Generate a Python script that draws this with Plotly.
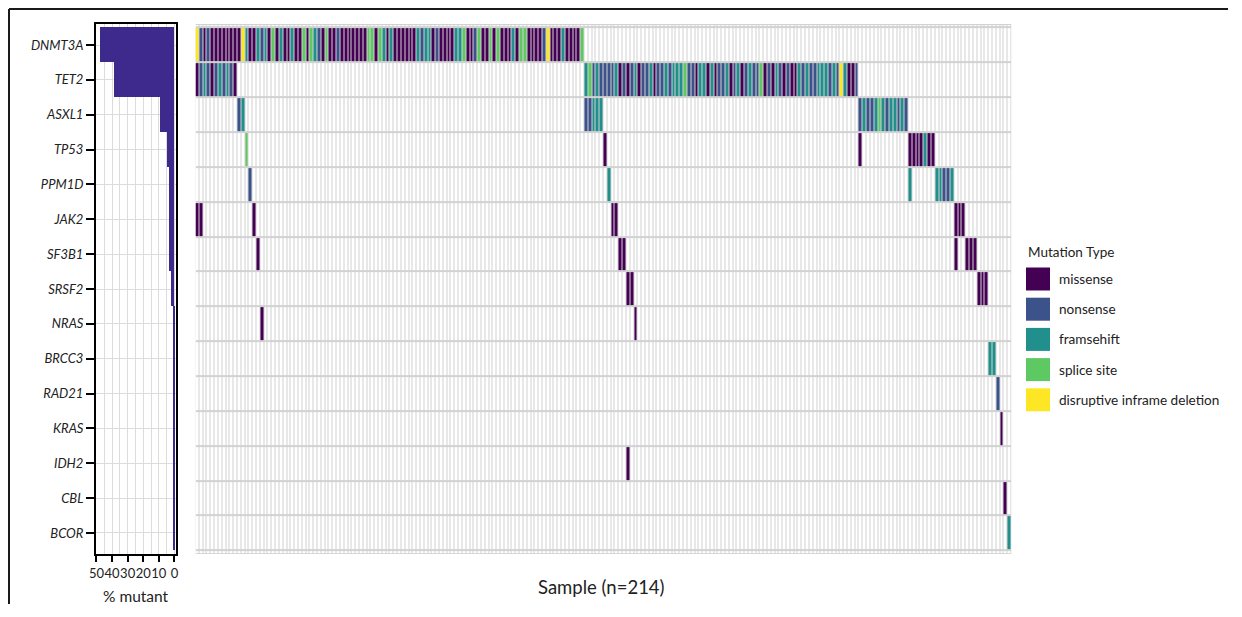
import numpy as np
import plotly.graph_objects as go

N_SAMPLES = 214
genes = ["DNMT3A", "TET2", "ASXL1", "TP53", "PPM1D", "JAK2", "SF3B1", "SRSF2",
         "NRAS", "BRCC3", "RAD21", "KRAS", "IDH2", "CBL", "BCOR"]

mutation_types = ["missense", "nonsense", "framsehift", "splice site", "disruptive inframe deletion"]
type_codes = ["M", "N", "F", "S", "D"]
type_colors = ["#440154", "#3b528b", "#21908c", "#5ec962", "#fde725"]

# per gene: (first sample index, run of mutation codes for consecutive samples)
DNMT3A = [(0, "DNMNMMMMMMMM" + "DFMMFNFMSMFMMFMMSMSFNMSMMNMMMMMMMSSMSF"),
          (50, "MFMMMMMMFNFFMNMMMMFFSMMNSMMSMSMMMFMSSMMMMNDMMMFMMMMS")]
TET2 = [(0, "MNFNMNFNFNM"),
        (102, "FSNFNNNNFMNMNFMNNFMNNFNFFFSNNMFFMFMNNFMNFMNFNNSMNMFNMNMMFNFNNFFFNFNDFMMN")]
ASXL1 = [(11, "NF"), (102, "NNFFF"), (174, "NFNNFSFNFFNFN")]
TP53 = [(13, "S"), (107, "M"), (174, "M"), (187, "MMMMFMM")]
PPM1D = [(14, "N"), (108, "F"), (187, "F"), (194, "FFNNF")]
JAK2 = [(0, "MM"), (15, "M"), (109, "MM"), (199, "MMM")]
SF3B1 = [(16, "M"), (111, "MM"), (199, "M"), (202, "MMM")]
SRSF2 = [(113, "MM"), (205, "MMM")]
NRAS = [(17, "M"), (115, "M")]
BRCC3 = [(208, "FF")]
RAD21 = [(210, "N")]
KRAS = [(211, "M")]
IDH2 = [(113, "M")]
CBL = [(212, "M")]
BCOR = [(213, "F")]

gene_runs = [DNMT3A, TET2, ASXL1, TP53, PPM1D, JAK2, SF3B1, SRSF2,
             NRAS, BRCC3, RAD21, KRAS, IDH2, CBL, BCOR]

x_ticks = [50, 40, 30, 20, 10, 0]

BAR_COLOR = "#3d2a8c"
GRID = "#dcdcdc"
FONT = "Lato"
TXT = "#222222"

# ---------- build matrix ----------
code_val = {c: i + 1 for i, c in enumerate(type_codes)}
mat = np.zeros((len(genes), N_SAMPLES))
for gi, runs in enumerate(gene_runs):
    for start, codes in runs:
        for k, c in enumerate(codes):
            mat[gi, start + k] = code_val[c]
counts = (mat > 0).sum(axis=1)
pct = counts / N_SAMPLES * 100

E = 0.1  # thin strip above/below rows
z = np.vstack([np.zeros((1, N_SAMPLES)), mat, np.zeros((1, N_SAMPLES))])
yedges = [-0.5 - E] + [i - 0.5 for i in range(len(genes) + 1)] + [len(genes) - 0.5 + E]
xedges = [i - 0.5 for i in range(N_SAMPLES + 1)]

vals = ["#ffffff"] + type_colors
cs = []
n = len(vals)
for i, c in enumerate(vals):
    cs += [[i / n, c], [(i + 1) / n, c]]

# ---------- geometry helpers (page pixels -> paper) ----------
W, H = 1220, 596
OFF = 8
def px(X):
    return (X - OFF) / W
def py(Y):
    return 1 - (Y - OFF) / H

YTOP, YBOT = 24.1, 553.9
yrange = [len(genes) - 0.5 + E, -0.5 - E]

fig = go.Figure()
fig.add_trace(go.Bar(
    x=pct, y=list(range(len(genes))), orientation="h", width=1,
    marker=dict(color=BAR_COLOR, line=dict(width=0)),
    xaxis="x", yaxis="y", showlegend=False, hoverinfo="skip"))
fig.add_trace(go.Heatmap(
    z=z, x=xedges, y=yedges, colorscale=cs, zmin=-0.5, zmax=n - 0.5,
    showscale=False, xgap=1, ygap=2, xaxis="x2", yaxis="y2", hoverinfo="skip"))

shapes = [
    dict(type="rect", xref="x2", yref="y2", x0=-0.5, x1=N_SAMPLES - 0.5,
         y0=yrange[1], y1=yrange[0], fillcolor="#d2d2d2", line=dict(width=0), layer="below"),
    dict(type="line", xref="paper", yref="paper", x0=px(9), x1=1.2, y0=py(9), y1=py(9),
         line=dict(color="#1a1a1a", width=2)),
    dict(type="line", xref="paper", yref="paper", x0=px(9), x1=px(9), y0=py(9), y1=-0.2,
         line=dict(color="#1a1a1a", width=2)),
]
annotations = [
    dict(text="% mutant", x=px(136), y=py(596), xref="paper", yref="paper",
         xanchor="center", yanchor="middle",
         showarrow=False, font=dict(size=15.5, color=TXT, family=FONT)),
    dict(text="Sample (n=214)", x=px(601), y=py(587), xref="paper", yref="paper",
         xanchor="center", yanchor="middle",
         showarrow=False, font=dict(size=18.5, color=TXT, family=FONT)),
    dict(text="Mutation Type", x=px(1026), y=py(252), xref="paper", yref="paper",
         xanchor="left", yanchor="middle", showarrow=False,
         font=dict(size=13.5, color=TXT, family=FONT)),
]
for i, (lab, col) in enumerate(zip(mutation_types, type_colors)):
    yc = 279 + i * 30.2
    shapes.append(dict(type="rect", xref="paper", yref="paper",
                       x0=px(1026), x1=px(1050), y0=py(yc + 11.5), y1=py(yc - 11.5),
                       fillcolor=col, line=dict(width=0)))
    annotations.append(dict(text=lab, x=px(1057), y=py(yc), xref="paper", yref="paper",
                            xanchor="left", yanchor="middle", showarrow=False,
                            font=dict(size=13.6, color=TXT, family=FONT)))

fig.update_layout(
    width=W, height=H, autosize=False, margin=dict(l=0, r=0, t=0, b=0, autoexpand=False),
    paper_bgcolor="white", plot_bgcolor="white",
    font=dict(family=FONT, color=TXT),
    bargap=0, showlegend=False,
    xaxis=dict(domain=[px(96), px(176)], range=[50.3, -1.0], anchor="y", automargin=False,
               tickvals=x_ticks, tickangle=0, ticks="outside", ticklen=6, tickwidth=1.5,
               tickcolor="black",
               showline=True, mirror=True, linecolor="black", linewidth=2,
               showgrid=True, gridcolor=GRID, gridwidth=1,
               minor=dict(dtick=5, showgrid=True, gridcolor=GRID, gridwidth=1),
               zeroline=False, tickfont=dict(size=13, color=TXT, family=FONT)),
    yaxis=dict(domain=[py(YBOT), py(YTOP)], range=yrange, anchor="x", automargin=False,
               tickvals=list(range(len(genes))), ticktext=genes,
               ticks="outside", ticklen=8, tickwidth=1.5, tickcolor="black",
               showline=True, mirror=True, linecolor="black", linewidth=2,
               showgrid=True, gridcolor=GRID, zeroline=False,
               tickfont=dict(size=13, color=TXT, family=FONT, style="italic")),
    xaxis2=dict(domain=[px(195.5), px(1011.5)], range=[-0.5, N_SAMPLES - 0.5], anchor="y2",
                visible=False, automargin=False),
    yaxis2=dict(domain=[py(YBOT), py(YTOP)], range=yrange, anchor="x2", visible=False,
                automargin=False),
    shapes=shapes, annotations=annotations,
)

fig.write_html("out.html", config={"responsive": False})
